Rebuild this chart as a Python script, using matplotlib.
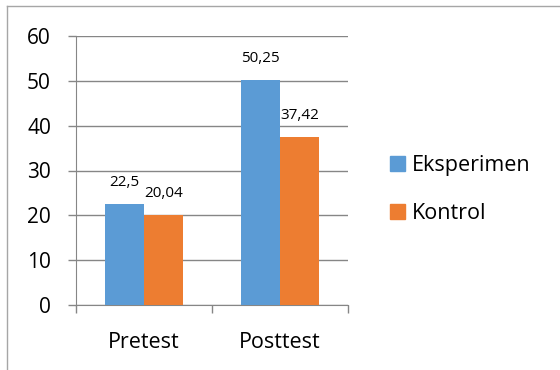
import matplotlib
matplotlib.use("Agg")
import matplotlib.pyplot as plt
from matplotlib.lines import Line2D
from matplotlib.patches import Patch
import numpy as np

# data
kategori = ["Pretest", "Posttest"]
eksperimen = [22.5, 50.25]
kontrol = [20.04, 37.42]
label_eks = ["22,5", "50,25"]
label_kon = ["20,04", "37,42"]
seri = ["Eksperimen", "Kontrol"]

plt.rcParams['font.family'] = ['Open Sans', 'DejaVu Sans']
biru = "#5B9BD5"
oranye = "#ED7D31"
abu = "#868686"

fig = plt.figure(figsize=(5.6, 3.7), dpi=100)
ax = fig.add_axes([76/560, 1-305/370, 272/560, 269/370])

x = np.arange(len(kategori))
w = 0.287
ax.bar(x - w/2, eksperimen, w, color=biru, zorder=3)
ax.bar(x + w/2, kontrol, w, color=oranye, zorder=3)

for xi, v, t in zip(x - w/2, eksperimen, label_eks):
    ax.annotate(t, (xi, v), xytext=(0, 15.5), textcoords="offset points",
                ha="center", va="center", fontsize=11)
for xi, v, t in zip(x + w/2, kontrol, label_kon):
    ax.annotate(t, (xi, v), xytext=(0, 15.5), textcoords="offset points",
                ha="center", va="center", fontsize=11)

ax.set_xlim(-0.5, 1.5)
ax.set_ylim(0, 60)
ax.set_yticks(range(0, 61, 10))
ax.yaxis.grid(True, color=abu, linewidth=1, zorder=0)
ax.set_xticks(x)
ax.set_xticklabels(kategori, fontsize=15.5)
ax.set_xticks([-0.5, 0.5, 1.5], minor=True)
ax.tick_params(axis="x", which="major", length=0, pad=19.5)
ax.tick_params(axis="x", which="minor", length=6, color=abu, width=1)
ax.tick_params(axis="y", length=6, color=abu, width=1, labelsize=15, pad=12)

for s in ["top", "right"]:
    ax.spines[s].set_visible(False)
ax.spines["left"].set_color(abu)
ax.spines["bottom"].set_color(abu)

h = [Patch(color=biru), Patch(color=oranye)]
fig.legend(h, seri, loc="center left", bbox_to_anchor=(390/560, 1-189.5/370),
           frameon=False, fontsize=15.5, handlelength=0.7, handleheight=0.7,
           handletextpad=0.3, labelspacing=1.25, borderpad=0, borderaxespad=0)

# bingkai (hanya atas dan kiri terlihat)
fig.add_artist(Line2D([7/560, 1], [1-6/370, 1-6/370], color="#A6A6A6", lw=1))
fig.add_artist(Line2D([7/560, 7/560], [0, 1-6/370], color="#A6A6A6", lw=1))

fig.savefig("out.png", dpi=100)
